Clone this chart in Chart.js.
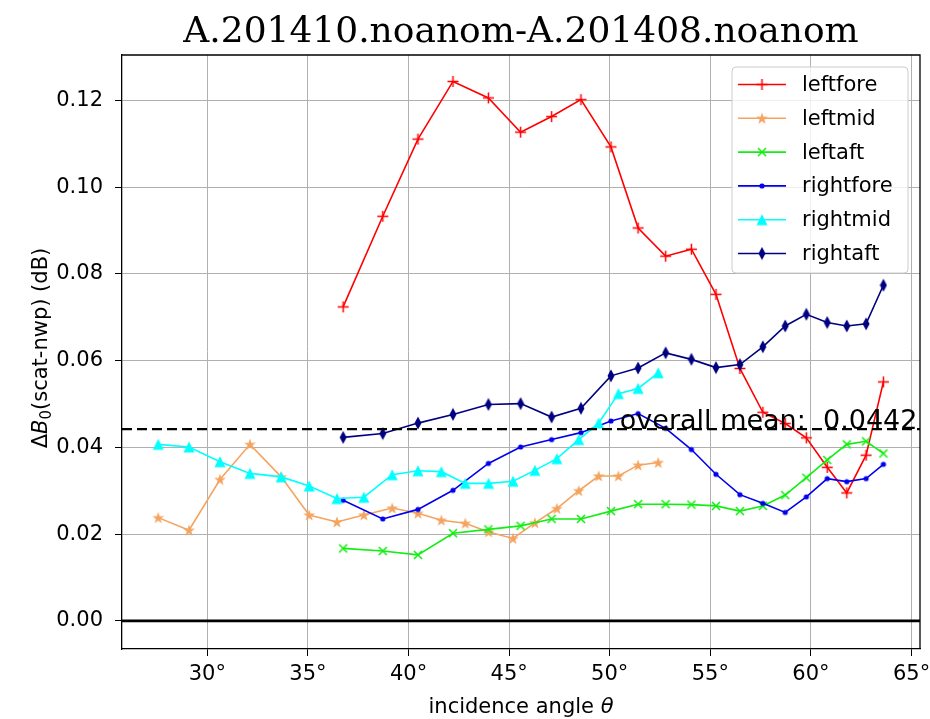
<!DOCTYPE html>
<html>
<head>
<meta charset="utf-8">
<script src="https://cdn.jsdelivr.net/npm/chart.js@4"></script>
<style>
  html, body { margin: 0; padding: 0; background: #fff; }
  canvas { display: block; }
</style>
</head>
<body>
<canvas id="chart" width="930" height="719"></canvas>
<script>
// incidence angles (deg) of the fore/aft beams and of the mid beams
const angleForeAft = [36.75, 38.72, 40.47, 42.21, 43.97, 45.57, 47.11, 48.57, 50.06, 51.41, 52.78,
                      54.06, 55.28, 56.47, 57.61, 58.72, 59.77, 60.81, 61.78, 62.74, 63.60];
const angleMid = [27.56, 29.09, 30.63, 32.12, 33.67, 35.06, 36.44, 37.78, 39.19, 40.47, 41.63,
                  42.82, 43.98, 45.19, 46.28, 47.37, 48.46, 49.45, 50.43, 51.41, 52.41];

// bias difference per beam (dB)
const leftfore = [0.0724, 0.0933, 0.1111, 0.1244, 0.1206, 0.1127, 0.1163, 0.1202, 0.1093, 0.0906, 0.0841,
                  0.0857, 0.0753, 0.0582, 0.0481, 0.0455, 0.0422, 0.0354, 0.0295, 0.0382, 0.0551];
const leftmid = [0.0238, 0.0209, 0.0326, 0.0407, 0.0332, 0.0244, 0.0228, 0.0244, 0.0260, 0.0248, 0.0232,
                 0.0225, 0.0205, 0.0190, 0.0226, 0.0259, 0.0300, 0.0334, 0.0334, 0.0359, 0.0365];
const leftaft = [0.0167, 0.0161, 0.0152, 0.0202, 0.0211, 0.0219, 0.0235, 0.0235, 0.0253, 0.0269, 0.0269,
                 0.0268, 0.0265, 0.0253, 0.0265, 0.0290, 0.0330, 0.0371, 0.0407, 0.0414, 0.0386];
const rightfore = [0.0278, 0.0235, 0.0257, 0.0301, 0.0363, 0.0401, 0.0418, 0.0434, 0.0461, 0.0478, 0.0444,
                   0.0395, 0.0338, 0.0291, 0.0271, 0.0250, 0.0286, 0.0328, 0.0321, 0.0328, 0.0361];
const rightmid = [0.0407, 0.0401, 0.0367, 0.0340, 0.0332, 0.0311, 0.0282, 0.0285, 0.0337, 0.0346, 0.0344,
                  0.0317, 0.0317, 0.0322, 0.0347, 0.0374, 0.0418, 0.0456, 0.0524, 0.0536, 0.0572];
const rightaft = [0.0423, 0.0432, 0.0456, 0.0476, 0.0499, 0.0501, 0.0470, 0.0490, 0.0565, 0.0583, 0.0618,
                  0.0603, 0.0584, 0.0591, 0.0632, 0.0680, 0.0707, 0.0688, 0.0680, 0.0685, 0.0774];

const overallMean = 0.0442;
const xTicks = [30, 35, 40, 45, 50, 55, 60, 65];
const yTicks = [0.00, 0.02, 0.04, 0.06, 0.08, 0.10, 0.12];
const titleText = 'A.201410.noanom-A.201408.noanom';

const FONT = 'DejaVu Sans';
Chart.defaults.font.family = FONT;

// small canvases used as point markers (+, *, x, ., ^, d)
function marker(w, h, draw) {
  const c = document.createElement('canvas');
  c.width = w; c.height = h;
  draw(c.getContext('2d'));
  return c;
}
const plusMark = marker(13, 13, g => {
  g.strokeStyle = 'red'; g.lineWidth = 1.5;
  g.beginPath(); g.moveTo(6.5, 1); g.lineTo(6.5, 12); g.moveTo(1, 6.5); g.lineTo(12, 6.5); g.stroke();
});
const starMark = marker(14, 14, g => {
  g.fillStyle = '#f4a460';
  g.beginPath();
  for (let i = 0; i < 10; i++) {
    const r = i % 2 ? 2.4 : 6.2;
    const a = -Math.PI / 2 + i * Math.PI / 5;
    g.lineTo(7 + r * Math.cos(a), 7.5 + r * Math.sin(a));
  }
  g.closePath(); g.fill();
});
const xMark = marker(12, 12, g => {
  g.strokeStyle = '#11ee11'; g.lineWidth = 1.6;
  g.beginPath(); g.moveTo(2, 2); g.lineTo(10, 10); g.moveTo(10, 2); g.lineTo(2, 10); g.stroke();
});
const dotMark = marker(8, 8, g => {
  g.fillStyle = '#0000ee';
  g.beginPath(); g.arc(4, 4, 2.6, 0, Math.PI * 2); g.fill();
});
const triMark = marker(14, 14, g => {
  g.fillStyle = 'cyan';
  g.beginPath(); g.moveTo(7, 1.5); g.lineTo(12.5, 12.5); g.lineTo(1.5, 12.5); g.closePath(); g.fill();
});
const diaMark = marker(8, 14, g => {
  g.fillStyle = 'navy';
  g.beginPath(); g.moveTo(4, 0.5); g.lineTo(7.5, 7); g.lineTo(4, 13.5); g.lineTo(0.5, 7); g.closePath(); g.fill();
});

const beams = [
  { label: 'leftfore',  xs: angleForeAft, ys: leftfore,  color: 'red',     mark: plusMark },
  { label: 'leftmid',   xs: angleMid,     ys: leftmid,   color: '#f4a460', mark: starMark },
  { label: 'leftaft',   xs: angleForeAft, ys: leftaft,   color: '#11ee11', mark: xMark },
  { label: 'rightfore', xs: angleForeAft, ys: rightfore, color: '#0000ee', mark: dotMark },
  { label: 'rightmid',  xs: angleMid,     ys: rightmid,  color: 'cyan',    mark: triMark },
  { label: 'rightaft',  xs: angleForeAft, ys: rightaft,  color: 'navy',    mark: diaMark }
];

const datasets = beams.map((b, i) => ({
  label: b.label,
  data: b.xs.map((x, k) => ({ x: x, y: b.ys[k] })),
  showLine: true,
  borderColor: b.color,
  backgroundColor: b.color,
  borderWidth: 1.6,
  pointStyle: b.mark,
  pointRadius: 5,
  pointHoverRadius: 5,
  order: beams.length - i  // later series on top
}));

// reference lines, frame, legend and texts
const decor = {
  id: 'decor',
  afterDatasetsDraw(chart) {
    const { ctx, chartArea: a, scales: { x, y } } = chart;
    ctx.save();
    ctx.beginPath(); ctx.rect(a.left, a.top, a.right - a.left, a.bottom - a.top); ctx.clip();
    // zero line
    const y0 = y.getPixelForValue(0);
    ctx.strokeStyle = '#000'; ctx.lineWidth = 2.8;
    ctx.beginPath(); ctx.moveTo(a.left, y0); ctx.lineTo(a.right, y0); ctx.stroke();
    // overall mean
    const ym = y.getPixelForValue(overallMean);
    ctx.lineWidth = 2.2; ctx.setLineDash([10, 5]);
    ctx.beginPath(); ctx.moveTo(a.left, ym); ctx.lineTo(a.right, ym); ctx.stroke();
    ctx.setLineDash([]);
    ctx.restore();

    ctx.save();
    ctx.fillStyle = '#000';
    ctx.font = '27px "' + FONT + '"';
    ctx.textBaseline = 'alphabetic';
    ctx.textAlign = 'left';
    ctx.fillText('overall mean:  ' + overallMean.toFixed(4), x.getPixelForValue(50.5), ym);

    // top and right spines
    ctx.strokeStyle = '#000'; ctx.lineWidth = 1.3;
    ctx.beginPath();
    ctx.moveTo(a.left, a.top); ctx.lineTo(a.right, a.top); ctx.lineTo(a.right, a.bottom);
    ctx.stroke();

    // legend
    const lx = a.right - 188, ly = a.top + 12, lw = 176, lh = 206;
    ctx.beginPath(); ctx.roundRect(lx, ly, lw, lh, 4);
    ctx.fillStyle = 'rgba(255,255,255,0.8)'; ctx.fill();
    ctx.strokeStyle = '#cccccc'; ctx.lineWidth = 1; ctx.stroke();
    ctx.font = '21px "' + FONT + '"';
    ctx.textBaseline = 'middle';
    beams.forEach((b, i) => {
      const ry = ly + 17.5 + i * 33.8;
      ctx.strokeStyle = b.color; ctx.lineWidth = 1.6;
      ctx.beginPath(); ctx.moveTo(lx + 6, ry); ctx.lineTo(lx + 54, ry); ctx.stroke();
      ctx.drawImage(b.mark, lx + 30 - b.mark.width / 2, ry - b.mark.height / 2);
      ctx.fillStyle = '#000';
      ctx.fillText(b.label, lx + 70, ry + 1);
    });
    ctx.restore();
  },
  afterDraw(chart) {
    const { ctx, chartArea: a } = chart;
    const cx = (a.left + a.right) / 2;
    ctx.save();
    ctx.fillStyle = '#000';
    ctx.textBaseline = 'alphabetic';

    // title
    ctx.font = '36px "DejaVu Serif"';
    ctx.textAlign = 'center';
    ctx.fillText(titleText, cx, 42);

    // x axis label with italic theta
    const fN = '21px "' + FONT + '"', fI = 'italic 21px "' + FONT + '"';
    ctx.textAlign = 'left';
    ctx.font = fN; const w1 = ctx.measureText('incidence angle ').width;
    ctx.font = fI; const w2 = ctx.measureText('θ').width;
    let sx = cx - (w1 + w2) / 2;
    ctx.font = fN; ctx.fillText('incidence angle ', sx, 713);
    ctx.font = fI; ctx.fillText('θ', sx + w1, 713);

    // y axis label: ΔB0(scat-nwp) (dB)
    const parts = [
      { t: 'Δ', f: fN, dy: 0 },
      { t: 'B', f: fI, dy: 0 },
      { t: '0', f: '15px "' + FONT + '"', dy: 4 },
      { t: '(scat-nwp) (dB)', f: fN, dy: 0 }
    ];
    let total = 0;
    parts.forEach(p => { ctx.font = p.f; p.w = ctx.measureText(p.t).width; total += p.w; });
    ctx.translate(47, (a.top + a.bottom) / 2 - 4);
    ctx.rotate(-Math.PI / 2);
    let px = -total / 2;
    parts.forEach(p => { ctx.font = p.f; ctx.fillText(p.t, px, p.dy); px += p.w; });
    ctx.restore();
  }
};

const tickFont = { family: FONT, size: 21 };

new Chart(document.getElementById('chart'), {
  type: 'scatter',
  data: { datasets: datasets },
  options: {
    responsive: false,
    animation: false,
    events: [],
    layout: { padding: { top: 55, right: 10, bottom: 0, left: 0 } },
    plugins: { legend: { display: false }, title: { display: false }, tooltip: { enabled: false } },
    scales: {
      x: {
        type: 'linear',
        min: 25.76,
        max: 65.42,
        afterBuildTicks: s => { s.ticks = xTicks.map(v => ({ value: v })); },
        afterFit: s => { s.height = 70; s.paddingLeft = 0; s.paddingRight = 0; },
        ticks: { callback: v => v + '°', font: tickFont, color: '#000', padding: 6, maxRotation: 0, autoSkip: false },
        grid: { color: '#b0b0b0', lineWidth: 1, tickColor: '#000', tickLength: 7 },
        border: { color: '#000', width: 1.3 }
      },
      y: {
        type: 'linear',
        min: -0.0065,
        max: 0.1305,
        afterBuildTicks: s => { s.ticks = yTicks.map(v => ({ value: v })); },
        afterFit: s => { s.width = 122; s.paddingTop = 0; s.paddingBottom = 0; },
        ticks: { callback: v => v.toFixed(2), font: tickFont, color: '#000', padding: 12 },
        grid: { color: '#b0b0b0', lineWidth: 1, tickColor: '#000', tickLength: 7 },
        border: { color: '#000', width: 1.3 }
      }
    }
  },
  plugins: [decor]
});
</script>
</body>
</html>
